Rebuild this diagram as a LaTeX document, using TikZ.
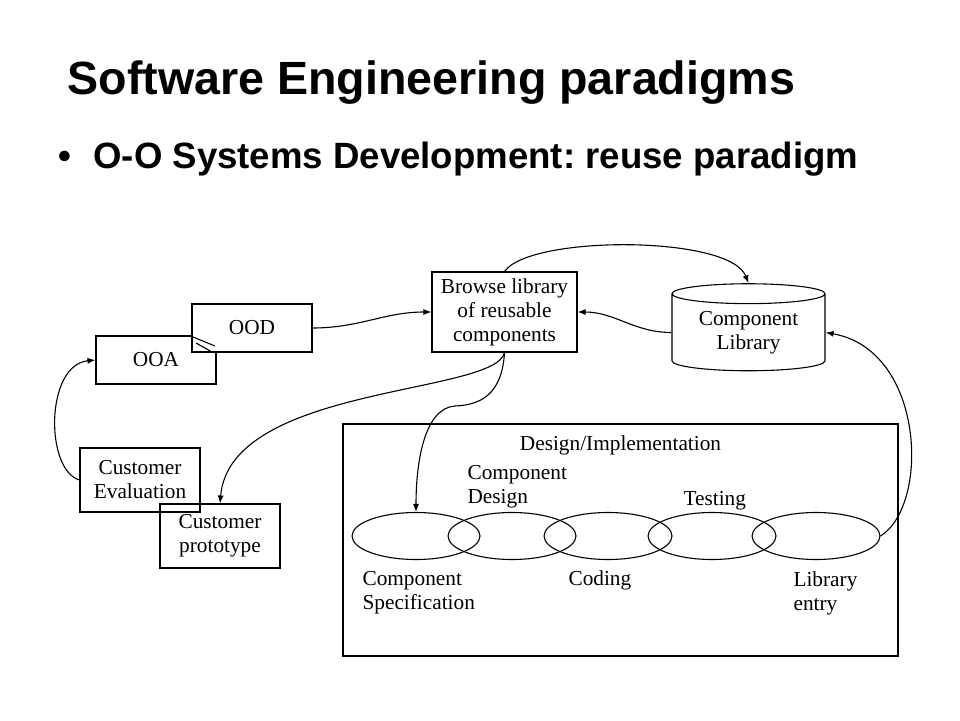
\documentclass[tikz,border=0pt]{standalone}
\usepackage{fontspec}
\setmainfont{Liberation Serif}
\newfontfamily\headfont{Liberation Sans}
\usetikzlibrary{shapes.geometric,arrows.meta}
\frenchspacing

\begin{document}
\begin{tikzpicture}[x=1pt,y=-1pt,line width=1.1pt,
		font=\fontsize{21.3}{24}\selectfont,
		box/.style={draw,align=center,inner sep=0,minimum width=120,minimum height=48},
		loop/.style={draw,ellipse,inner sep=0,minimum width=128,minimum height=47},
		lbl/.style={anchor=base west,align=left,inner sep=0},
		flow/.style={-{Latex[length=8pt,width=6pt]}}]
		\useasboundingbox (0,0) rectangle (960,720);
		\draw (67,94) node(title)[anchor=base west,inner sep=0,font=\headfont\bfseries\fontsize{46.6}{50}\selectfont]{Software Engineering paradigms};
		\draw (58,168) node(point)[anchor=base west,inner sep=0,font=\headfont\bfseries\fontsize{36.6}{40}\selectfont]{\textbullet\hspace{22pt}O-O Systems Development: reuse paradigm};
		\draw (156,360) node(ooa)[box]{OOA};
		\draw (252,328) node(ood)[box,fill=white]{OOD};
		\draw (193,337) -- (215,346) (196,343) -- (212,352);
		\draw (504.5,312) node(browse)[box,minimum width=145,minimum height=80]{Browse library\\of reusable\\components};
		\draw (748.5,332.5) node(libr)[draw,cylinder,shape border rotate=90,aspect=0.2,inner sep=0,minimum width=153,minimum height=87,align=center]{Component\\Library};
		\draw (140,480) node(eval)[box,minimum height=64]{Customer\\Evaluation};
		\draw (220,536) node(proto)[box,minimum height=64]{Customer\\prototype};
		\draw (620.5,540) node(impl)[draw,minimum width=555,minimum height=232]{};
		\draw (416,536) node(e1)[loop]{};
		\draw (512,536) node(e2)[loop]{};
		\draw (608,536) node(e3)[loop]{};
		\draw (712,536) node(e4)[loop]{};
		\draw (816,536) node(e5)[loop]{};
		\draw (620.5,450) node(impltext)[anchor=base,inner sep=0]{Design/Implementation};
		\draw (467,503) node(design)[lbl]{Component\\Design};
		\draw (683,505) node(testing)[lbl]{Testing};
		\draw (362,609) node(spec)[lbl]{Component\\Specification};
		\draw (568,585) node(coding)[lbl]{Coding};
		\draw (793,610) node(entry)[lbl]{Library\\entry};
		\draw[flow] (ood.east) to[out=0,in=180] (browse.west);
		\draw[flow] (libr.west) to[out=180,in=0] (browse.east);
		\draw[flow] (browse.north) .. controls (530,235) and (730,235) .. (libr.north);
		\draw[flow] (browse.south) .. controls (495,395) and (230,385) .. (proto.north);
		\draw[flow] (browse.south) .. controls (502,395) and (480,405) .. (455,406) .. controls (425,408) and (416,460) .. (e1.north);
		\draw[flow] (e5.east) .. controls (930,505) and (925,350) .. (libr.east);
		\draw[flow] (eval.west) .. controls (45,470) and (45,365) .. (ooa.west);
	\end{tikzpicture}
\end{document}
